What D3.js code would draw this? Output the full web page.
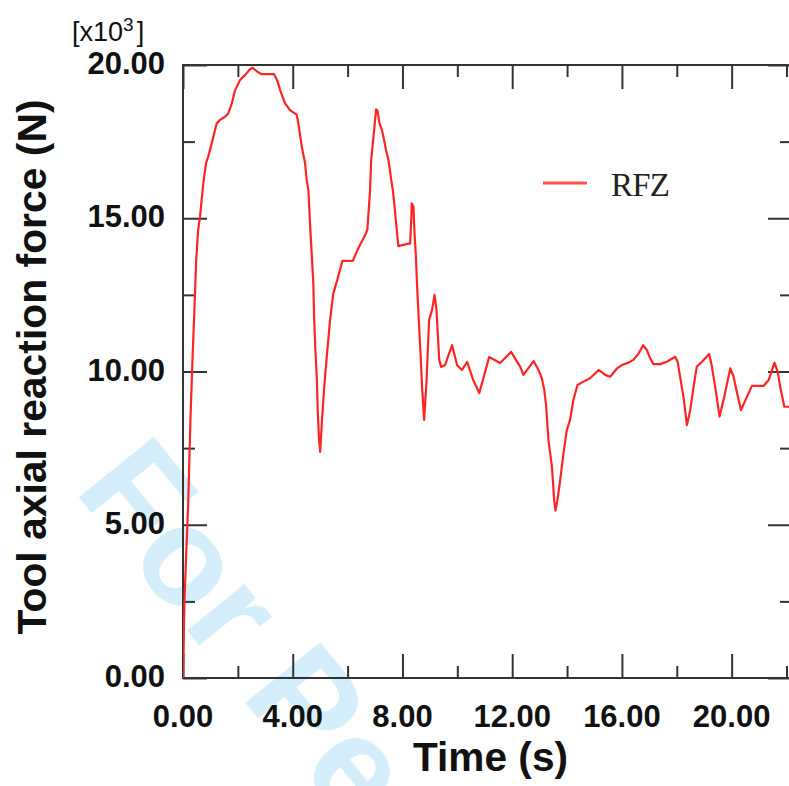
<!DOCTYPE html>
<html><head><meta charset="utf-8">
<script src="https://cdn.jsdelivr.net/npm/d3@7"></script>
<style>html,body{margin:0;padding:0;background:#fff;}svg{display:block;}</style>
</head><body>
<script>
const times = [0.00,0.02,0.05,0.12,0.19,0.27,0.35,0.42,0.48,0.55,0.62,0.74,0.84,0.92,1.05,1.17,1.23,1.35,1.53,1.65,1.78,1.90,2.08,2.26,2.44,2.54,2.71,2.87,3.32,3.44,3.54,3.72,3.90,4.15,4.24,4.33,4.45,4.51,4.57,4.63,4.69,4.75,4.78,4.82,4.88,4.91,4.96,5.00,5.06,5.14,5.24,5.36,5.48,5.64,5.81,6.19,6.39,6.64,6.72,6.82,6.86,6.92,6.98,7.04,7.09,7.16,7.25,7.33,7.40,7.49,7.59,7.65,7.70,7.77,7.85,8.03,8.28,8.32,8.34,8.40,8.44,8.49,8.54,8.67,8.72,8.79,8.88,8.97,9.08,9.17,9.24,9.34,9.41,9.55,9.81,9.99,10.17,10.36,10.58,10.80,11.16,11.56,11.96,12.14,12.29,12.41,12.78,12.96,13.08,13.17,13.24,13.32,13.45,13.53,13.58,13.65,13.75,13.87,13.99,14.11,14.23,14.38,14.60,14.84,15.15,15.39,15.57,15.82,16.00,16.24,16.42,16.61,16.77,16.91,17.03,17.15,17.40,17.64,17.94,18.03,18.10,18.25,18.37,18.49,18.61,18.73,18.92,19.18,19.28,19.40,19.56,19.73,19.95,20.07,20.20,20.34,20.56,20.74,21.16,21.35,21.56,21.68,21.77,21.92,22.10];
const rfz = [0.0,0.85,2.45,4.1,5.7,8.4,10.5,12.1,13.6,14.6,15.05,16.14,16.80,17.01,17.46,17.89,18.10,18.21,18.31,18.42,18.75,19.18,19.51,19.67,19.86,19.91,19.78,19.70,19.70,19.49,19.18,18.75,18.53,18.37,17.89,17.33,16.79,16.25,15.92,14.83,13.86,12.88,11.79,10.81,9.72,8.74,7.77,7.38,8.31,9.40,10.48,11.68,12.55,13.04,13.61,13.61,14.02,14.45,14.62,15.92,16.90,17.45,17.99,18.55,18.51,18.10,17.88,17.55,17.23,16.90,16.25,15.92,15.49,14.83,14.09,14.13,14.18,14.94,15.49,15.38,14.51,13.75,12.66,10.38,9.40,8.42,9.72,11.68,12.01,12.50,12.01,10.38,10.15,10.21,10.86,10.21,10.05,10.31,9.72,9.30,10.47,10.28,10.64,10.37,10.16,9.89,10.34,10.05,9.78,9.40,8.85,7.77,6.89,5.81,5.46,5.81,6.46,7.33,8.09,8.42,9.07,9.56,9.67,9.78,10.05,9.89,9.83,10.10,10.21,10.29,10.38,10.59,10.86,10.70,10.43,10.24,10.24,10.32,10.48,10.32,9.94,9.13,8.25,8.74,9.50,10.16,10.32,10.57,10.16,9.50,8.53,9.18,10.10,9.83,9.29,8.74,9.18,9.53,9.53,9.72,10.29,9.99,9.50,8.85,8.85];
const xMajorTicks = [0,4,8,12,16,20];
const xMinorTicks = [2,6,10,14,18,22];
const yMajorTicks = [0,5,10,15,20];
const yMinorTicks = [2.5,7.5,12.5,17.5];
const seriesName = "RFZ";
const xTitle = "Time (s)";
const yTitle = "Tool axial reaction force (N)";
const watermark = "For Peer Review";

const W = 789, H = 786;
const L = 183, T = 65, R = 792, B = 678;
const svg = d3.select("body").append("svg").attr("width", W).attr("height", H);

// watermark
svg.append("text").attr("transform","translate(73,490) rotate(51)")
  .attr("font-family","Liberation Sans, Arial, sans-serif").attr("font-weight","bold")
  .attr("font-size",140).attr("fill","#d4effb").text(watermark);

const x = d3.scaleLinear().domain([0, 22.2]).range([L, R]);
const y = d3.scaleLinear().domain([0, 20]).range([B, T]);

const axisColor = "#333";
const fmt = d3.format(".2f");
function styleAxis(g){ g.select(".domain").remove(); g.selectAll(".tick line").attr("stroke",axisColor).attr("stroke-width",2); g.selectAll("text").remove(); }

// ticks (inward on all sides)
svg.append("g").attr("transform",`translate(0,${B})`).call(d3.axisBottom(x).tickValues(xMajorTicks).tickSize(-24)).call(styleAxis);
svg.append("g").attr("transform",`translate(0,${B})`).call(d3.axisBottom(x).tickValues(xMinorTicks).tickSize(-12)).call(styleAxis);
svg.append("g").attr("transform",`translate(0,${T})`).call(d3.axisTop(x).tickValues(xMajorTicks).tickSize(-24)).call(styleAxis);
svg.append("g").attr("transform",`translate(0,${T})`).call(d3.axisTop(x).tickValues(xMinorTicks).tickSize(-12)).call(styleAxis);
svg.append("g").attr("transform",`translate(${L},0)`).call(d3.axisLeft(y).tickValues(yMajorTicks).tickSize(-24)).call(styleAxis);
svg.append("g").attr("transform",`translate(${L},0)`).call(d3.axisLeft(y).tickValues(yMinorTicks).tickSize(-12)).call(styleAxis);
svg.append("g").attr("transform",`translate(${R},0)`).call(d3.axisRight(y).tickValues(yMajorTicks).tickSize(-24)).call(styleAxis);
svg.append("g").attr("transform",`translate(${R},0)`).call(d3.axisRight(y).tickValues(yMinorTicks).tickSize(-12)).call(styleAxis);

// frame
svg.append("rect").attr("x",L).attr("y",T).attr("width",R-L).attr("height",B-T)
  .attr("fill","none").attr("stroke",axisColor).attr("stroke-width",2);

// tick labels
const lblFont = "Liberation Sans, Arial, sans-serif";
svg.append("g").selectAll("text").data(xMajorTicks).join("text")
  .attr("x",d=>x(d)).attr("y",727).attr("text-anchor","middle")
  .attr("font-family",lblFont).attr("font-weight","bold").attr("font-size",31).attr("fill","#111")
  .text(d=>fmt(d));
svg.append("g").selectAll("text").data(yMajorTicks).join("text")
  .attr("x",165).attr("y",d=>y(d)+9).attr("text-anchor","end")
  .attr("font-family",lblFont).attr("font-weight","bold").attr("font-size",31).attr("fill","#111")
  .text(d=>fmt(d));

// multiplier
const mult = svg.append("text").attr("x",72).attr("y",41).attr("font-family",lblFont).attr("font-size",27).attr("fill","#111");
mult.append("tspan").text("[x10");
mult.append("tspan").attr("dy",-10).attr("font-size",19).text("3");
mult.append("tspan").attr("dy",10).attr("dx",3).text("]");

// axis titles
svg.append("text").attr("x",(413+568)/2).attr("y",771).attr("text-anchor","middle")
  .attr("font-family",lblFont).attr("font-weight","bold").attr("font-size",41).attr("fill","#111")
  .attr("textLength",155).attr("lengthAdjust","spacingAndGlyphs").text(xTitle);
svg.append("text").attr("transform","translate(46,367) rotate(-90)").attr("text-anchor","middle")
  .attr("font-family",lblFont).attr("font-weight","bold").attr("font-size",41).attr("fill","#111")
  .attr("textLength",535).attr("lengthAdjust","spacingAndGlyphs").text(yTitle);

// line
svg.append("clipPath").attr("id","clip").append("rect").attr("x",L).attr("y",T).attr("width",R-L).attr("height",B-T);
const data = times.map((t,i)=>({t, v:rfz[i]}));
svg.append("path").datum(data).attr("clip-path","url(#clip)")
  .attr("fill","none").attr("stroke","#ff2424").attr("stroke-width",2.2).attr("stroke-linejoin","round")
  .attr("d", d3.line().x(d=>x(d.t)).y(d=>y(d.v)));

// legend
svg.append("line").attr("x1",543).attr("x2",587).attr("y1",183).attr("y2",183).attr("stroke","#ff5050").attr("stroke-width",3);
svg.append("text").attr("x",611).attr("y",196).attr("font-family","Liberation Serif, Times New Roman, serif")
  .attr("font-size",33).attr("letter-spacing",6).attr("fill","#222")
  .attr("textLength",65).attr("lengthAdjust","spacing").text(seriesName);
</script>
</body></html>
